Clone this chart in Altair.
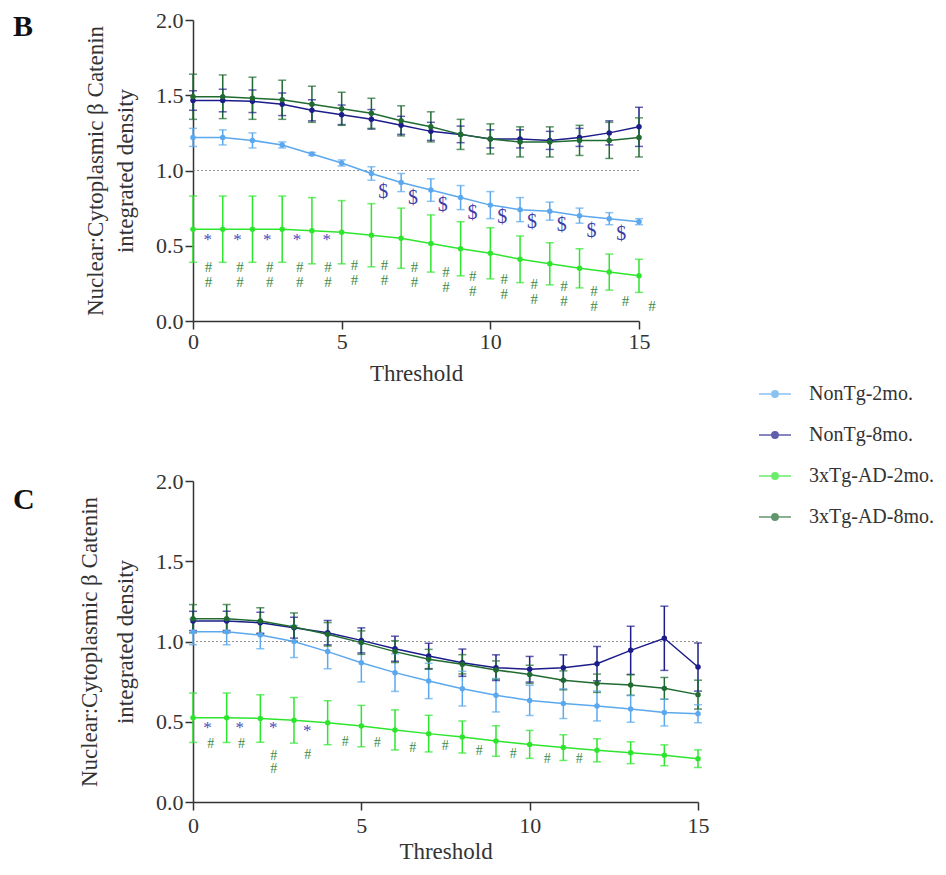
import altair as alt
import pandas as pd

# ---------------- data ----------------
thresholds = list(range(16))
groups = ["NonTg-2mo.", "NonTg-8mo.", "3xTg-AD-2mo.", "3xTg-AD-8mo."]
colors = ["#5ba8ee", "#1c1c8a", "#2ee52e", "#1f6b30"]

# Panel B means / SEM
b_nt2 = [1.22, 1.22, 1.20, 1.17, 1.11, 1.05, 0.98, 0.92, 0.87, 0.82, 0.77, 0.74, 0.73, 0.70, 0.68, 0.66]
b_nt2_err = [0.06, 0.05, 0.05, 0.02, 0.01, 0.02, 0.045, 0.06, 0.075, 0.08, 0.09, 0.08, 0.06, 0.05, 0.04, 0.02]
b_nt8 = [1.465, 1.465, 1.46, 1.44, 1.40, 1.37, 1.34, 1.30, 1.26, 1.24, 1.21, 1.21, 1.20, 1.22, 1.25, 1.29]
b_nt8_err = [0.065, 0.075, 0.075, 0.075, 0.07, 0.065, 0.065, 0.06, 0.06, 0.055, 0.06, 0.06, 0.06, 0.06, 0.08, 0.13]
b_tg2 = [0.61, 0.61, 0.61, 0.61, 0.60, 0.59, 0.57, 0.55, 0.515, 0.48, 0.45, 0.41, 0.38, 0.35, 0.325, 0.30]
b_tg2_err = [0.22, 0.22, 0.22, 0.22, 0.22, 0.21, 0.21, 0.20, 0.19, 0.18, 0.17, 0.155, 0.14, 0.13, 0.12, 0.11]
b_tg8 = [1.49, 1.49, 1.48, 1.47, 1.44, 1.41, 1.38, 1.33, 1.29, 1.24, 1.21, 1.19, 1.19, 1.20, 1.20, 1.22]
b_tg8_err = [0.15, 0.145, 0.14, 0.13, 0.12, 0.11, 0.10, 0.10, 0.10, 0.10, 0.10, 0.10, 0.10, 0.10, 0.12, 0.13]

# Panel C means / SEM
c_nt2 = [1.06, 1.06, 1.04, 1.00, 0.937, 0.868, 0.806, 0.754, 0.706, 0.665, 0.633, 0.613, 0.598, 0.58, 0.557, 0.55]
c_nt2_err = [0.08, 0.08, 0.085, 0.10, 0.107, 0.12, 0.117, 0.11, 0.108, 0.104, 0.094, 0.093, 0.093, 0.083, 0.083, 0.056]
c_nt8 = [1.128, 1.128, 1.117, 1.086, 1.055, 1.007, 0.955, 0.91, 0.868, 0.837, 0.827, 0.837, 0.862, 0.945, 1.02, 0.841]
c_nt8_err = [0.06, 0.06, 0.065, 0.065, 0.076, 0.078, 0.078, 0.079, 0.085, 0.08, 0.08, 0.08, 0.107, 0.15, 0.20, 0.15]
c_tg2 = [0.525, 0.525, 0.521, 0.509, 0.494, 0.473, 0.449, 0.426, 0.405, 0.38, 0.359, 0.339, 0.322, 0.307, 0.291, 0.27]
c_tg2_err = [0.154, 0.154, 0.148, 0.142, 0.137, 0.129, 0.125, 0.114, 0.10, 0.095, 0.087, 0.08, 0.072, 0.068, 0.065, 0.055]
c_tg8 = [1.142, 1.142, 1.128, 1.09, 1.045, 0.993, 0.937, 0.889, 0.858, 0.822, 0.795, 0.758, 0.74, 0.729, 0.708, 0.669]
c_tg8_err = [0.088, 0.088, 0.083, 0.088, 0.073, 0.073, 0.068, 0.062, 0.06, 0.057, 0.057, 0.059, 0.057, 0.064, 0.068, 0.09]

# Panel B annotations
b_star_x = [0.5, 1.5, 2.5, 3.5, 4.5]
b_star_y = [0.535, 0.535, 0.535, 0.535, 0.535]
b_dollar_x = [6.4, 7.4, 8.4, 9.4, 10.4, 11.4, 12.4, 13.4, 14.4]
b_dollar_y = [0.86, 0.82, 0.77, 0.72, 0.69, 0.66, 0.64, 0.60, 0.58]
b_hash_x = [0.52, 1.58, 2.58, 3.59, 4.54, 5.43, 6.44, 7.45, 8.51, 9.41, 10.47, 11.48, 12.48, 13.49, 14.55, 15.44]
b_hash_y = [0.36, 0.36, 0.36, 0.36, 0.36, 0.37, 0.37, 0.36, 0.325, 0.30, 0.28, 0.246, 0.235, 0.20, 0.134, 0.10]
b_hash_t = ["#\n#"] * 14 + ["#", "#"]

# Panel C annotations
c_star_x = [0.43, 1.39, 2.38, 3.39]
c_star_y = [0.463, 0.463, 0.463, 0.44]
c_hash_x = [0.53, 1.44, 2.4, 3.41, 4.52, 5.47, 6.53, 7.49, 8.5, 9.51, 10.52, 11.47]
c_hash_y = [0.36, 0.36, 0.287, 0.29, 0.374, 0.37, 0.339, 0.349, 0.318, 0.30, 0.27, 0.266]
c_hash_t = ["#", "#", "#\n#", "#", "#", "#", "#", "#", "#", "#", "#", "#"]

FONT = "Liberation Serif"
TXT = "#333333"
YTITLE = ["Nuclear:Cytoplasmic \u03b2 Catenin", "integrated density"]

LEGEND_PATH = "M-1,0L1,0M-0.2,0A0.2,0.2,0,1,1,0.2,0A0.2,0.2,0,1,1,-0.2,0Z"

LEG = alt.Legend(title=None, orient="none", legendX=565, legendY=357,
                 symbolType=LEGEND_PATH, symbolSize=1024, symbolStrokeWidth=1.5,
                 labelFont=FONT, labelFontSize=20, labelColor=TXT,
                 labelOffset=17, rowPadding=14, labelLimit=300)


def long_df(series):
    rows = []
    for g, (vals, errs) in zip(groups, series):
        for t, v, e in zip(thresholds, vals, errs):
            rows.append({"threshold": t, "mean": v, "lo": v - e, "hi": v + e, "group": g})
    return pd.DataFrame(rows)


def panel(df, stars, dollars, hashes, w, h, letter, letter_y, title_lh, ytp, xlp, xtp,
          hash_font, hash_lh):
    xaxis = alt.Axis(values=[0, 5, 10, 15], title="Threshold", labelFlush=False, grid=False,
                     labelPadding=xlp, titlePadding=xtp)
    yaxis = alt.Axis(values=[0, 0.5, 1.0, 1.5, 2.0], format=".1f", title=YTITLE,
                     titleLineHeight=title_lh, labelFlush=False, grid=False, titlePadding=ytp)
    xs = alt.Scale(domain=[0, 15], nice=False)
    ys = alt.Scale(domain=[0, 2], nice=False)

    def X(f):
        return alt.X(f, type="quantitative", scale=xs, axis=xaxis)

    def Y(f):
        return alt.Y(f, type="quantitative", scale=ys, axis=yaxis)

    cscale = alt.Scale(domain=groups, range=colors)
    col = alt.Color("group:N", scale=cscale, legend=LEG)

    base = alt.Chart(df)
    ref = alt.Chart(pd.DataFrame({"r": [1.0]})).mark_rule(
        color="#777777", strokeDash=[2, 2], strokeWidth=0.8
    ).encode(y=Y("r"))
    bars = base.mark_rule(strokeWidth=1.5).encode(x=X("threshold"), y=Y("lo"), y2="hi:Q", color=col)
    cap_lo = base.mark_tick(orient="horizontal", size=8, thickness=1.5).encode(x=X("threshold"), y=Y("lo"), color=col)
    cap_hi = base.mark_tick(orient="horizontal", size=8, thickness=1.5).encode(x=X("threshold"), y=Y("hi"), color=col)
    line = base.mark_line(strokeWidth=1.5).encode(x=X("threshold"), y=Y("mean"), color=col, detail="group:N")
    pts = base.mark_circle(size=30, opacity=1).encode(x=X("threshold"), y=Y("mean"), color=col)

    layers = [ref, bars, cap_lo, cap_hi, line, pts]

    sx, sy = stars
    layers.append(alt.Chart(pd.DataFrame({"ax": sx, "ay": sy, "t": ["*"] * len(sx)})).mark_text(
        font=FONT, fontSize=17, color="#4b4bc0", baseline="middle").encode(x=X("ax"), y=Y("ay"), text="t:N"))
    if dollars is not None:
        dx_, dy_ = dollars
        layers.append(alt.Chart(pd.DataFrame({"ax": dx_, "ay": dy_, "t": ["$"] * len(dx_)})).mark_text(
            font=FONT, fontSize=20, color="#3d3da8", baseline="middle").encode(x=X("ax"), y=Y("ay"), text="t:N"))
    hx, hy, ht = hashes
    layers.append(alt.Chart(pd.DataFrame({"ax": hx, "ay": hy, "t": ht})).mark_text(
        font=FONT, fontSize=hash_font, lineHeight=hash_lh, lineBreak="\n", color="#3c8a46", baseline="middle"
    ).encode(x=X("ax"), y=Y("ay"), text="t:N"))

    layers.append(alt.Chart(pd.DataFrame({"t": [letter]})).mark_text(
        font=FONT, fontSize=30, fontWeight="bold", color="#111111", align="left", baseline="top"
    ).encode(x=alt.value(-180), y=alt.value(letter_y), text="t:N"))

    return alt.layer(*layers).properties(width=w, height=h)


dfB = long_df([(b_nt2, b_nt2_err), (b_nt8, b_nt8_err), (b_tg2, b_tg2_err), (b_tg8, b_tg8_err)])
dfC = long_df([(c_nt2, c_nt2_err), (c_nt8, c_nt8_err), (c_tg2, c_tg2_err), (c_tg8, c_tg8_err)])

pB = panel(dfB, (b_star_x, b_star_y), (b_dollar_x, b_dollar_y), (b_hash_x, b_hash_y, b_hash_t),
           446, 301, "B", -8, 30, 18, 2, 10, 15, 15)
pC = panel(dfC, (c_star_x, c_star_y), None, (c_hash_x, c_hash_y, c_hash_t),
           505, 321, "C", 4, 36, 18, 5, 4, 14, 13)

chart = alt.vconcat(pB, pC, spacing=85).properties(
    padding={"left": 5, "top": 1, "right": 0, "bottom": 0}
).configure(font=FONT).configure_view(stroke=None).configure_axis(
    domainColor=TXT, domainWidth=1.5, tickColor=TXT, tickWidth=1.5, tickSize=8,
    labelFont=FONT, labelFontSize=22, labelColor=TXT,
    titleFont=FONT, titleFontSize=23, titleFontWeight="normal", titleColor=TXT,
).configure_axisY(labelPadding=2)

chart.save("out.html", embed_options={"renderer": "svg", "actions": False})
